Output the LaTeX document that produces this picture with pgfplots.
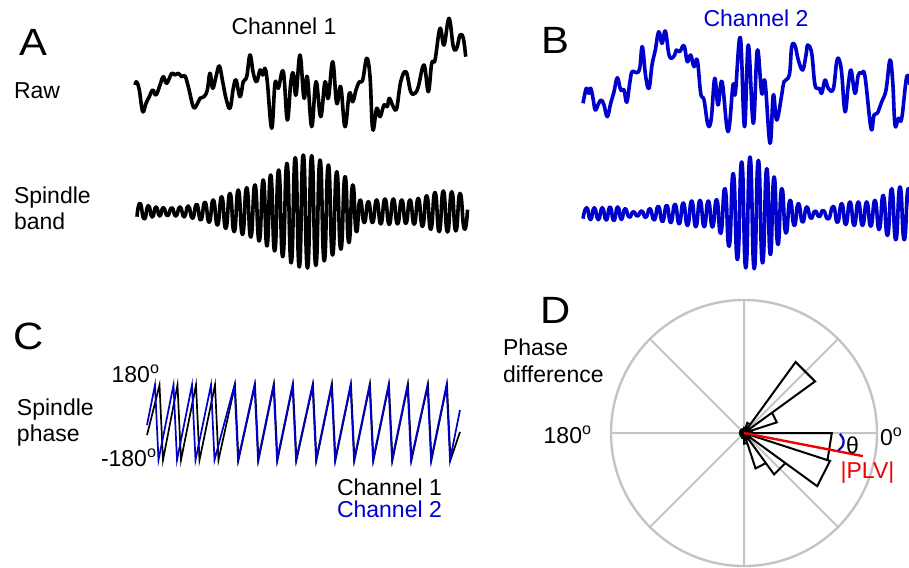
\documentclass[border=0pt]{standalone}
\usepackage{pgfplots}
\pgfplotsset{compat=1.18}
\usepgfplotslibrary{polar}
\usepackage{fontspec}
\setmainfont{Liberation Sans}
\definecolor{chblue}{RGB}{0,0,204}
\definecolor{gridgray}{RGB}{196,196,196}
\definecolor{plvred}{RGB}{240,0,0}
\begin{document}
\fontsize{11.5pt}{13.8pt}\selectfont
\begin{tikzpicture}
\useasboundingbox (0,0) rectangle (454.5pt,-283.5pt);
\clip (0,0) rectangle (454.5pt,-283.5pt);
\pgfplotsset{sig/.style={scale only axis, hide axis, enlargelimits=false, clip=false, anchor=south west}}

% ---------- Panel A: Channel 1 raw ----------
\begin{axis}[sig, width=168.5pt, height=65pt, at={(66.5pt,-70pt)},
  xmin=133, xmax=470, ymin=-60, ymax=70]
\addplot[black, line width=1.8pt, smooth, tension=0.65, line join=round] coordinates {
(135,-5) (136.7,-1.7) (139.3,-10) (142.7,-31.7) (146,-23.3) (149.3,-16.7) (152.7,-10) (156,-15)
(160,-5) (163.3,3.3) (166.7,-3.3) (171.7,6.7) (175,5) (178.3,6.7) (181.7,3.3) (185,4)
(188.3,-6.7) (193.3,-26.7) (196.7,-25) (200,-18.3) (204,-16.7) (207.3,-10) (210,6.7) (212.7,-8.3)
(216,3.3) (219.3,14) (222.7,-1.7) (226,-18.3) (230,-28.3) (233.3,-8.3) (236,0) (240,-16.7)
(243.3,-1.7) (246.7,3.3) (250,25) (253.3,6.7) (256.7,-1.7) (260,10) (262.7,5) (265,11.7)
(267.3,-1.7) (271.7,-48.3) (275,-3.3) (278.3,-8.3) (283.3,8.3) (287.3,-40) (290.7,-3.3) (293.3,6.7)
(296,-15) (300,25) (304,-18.3) (307.3,3.3) (311.7,-46.7) (316,-1.7) (320.7,-36.7) (325,-1.7)
(328.3,-18.3) (332.7,18.3) (336.7,-23.3) (340.7,-6.7) (345,-46.7) (349.3,-13.3) (352.7,-21.7) (356,-10)
(359.3,-1.7) (362.7,0) (366.7,21.7) (370,3.3) (372.7,-49.3) (376.7,-28.3) (380,-36.7) (384,-25)
(387.3,-26.7) (389.3,-18.3) (393.3,-26.7) (396.7,-28.3) (400.7,-1.7) (406,8.3) (410.7,-11.7) (415,-13.3)
(418.3,-6.7) (424,15) (428.3,-11.7) (431.7,16.7) (435,20) (440,51.7) (444,35) (449,61.7)
(453.3,33.3) (456.7,31.7) (460,45) (463.3,41.7) (465.7,23.3)
};
\end{axis}

% ---------- Panel A: Channel 1 spindle band ----------
\begin{axis}[sig, width=168.5pt, height=65pt, at={(66.5pt,-138.35pt)},
  xmin=133, xmax=470, ymin=-65, ymax=65]
\addplot[black, line width=1.8pt, smooth, tension=1, line join=round] coordinates {
(137.0,-5) (140.0,8.3) (144.2,-7.2) (148.3,6.0) (152.2,-5.3) (156.0,4.7) (159.7,-4.3) (163.3,4.0)
(167.5,-4.0) (171.7,4.0) (175.8,-4.3) (180.0,4.7) (184.2,-5.2) (188.3,5.7) (192.5,-6.5) (196.7,7.3)
(200.8,-8.3) (205.0,9.3) (209.2,-10.5) (213.3,11.7) (217.5,-13.3) (221.7,15.0) (225.8,-16.7) (230.0,18.3)
(234.2,-20.0) (238.3,21.7) (242.5,-22.8) (246.7,24.0) (250.8,-25.3) (255.0,26.7) (259.2,-29.2) (263.3,31.7)
(267.0,-34.2) (270.7,36.7) (274.7,-39.2) (278.7,41.7) (282.8,-45.0) (287.0,48.3) (291.2,-51.2) (295.3,54.0)
(299.3,-55.3) (303.3,56.7) (307.5,-56.3) (311.7,56.0) (315.8,-53.8) (320.0,51.7) (324.2,-49.2) (328.3,46.7)
(332.5,-43.3) (336.7,40.0) (340.8,-37.5) (345.0,35.0) (348.8,-30.8) (352.7,26.7) (356.3,-20.0) (360.0,11.7)
(364.2,-10.8) (368.3,10.0) (372.5,-10.8) (376.7,11.7) (380.8,-12.2) (385.0,12.7) (389.2,-12.7) (393.3,12.7)
(397.5,-12.2) (401.7,11.7) (405.8,-11.7) (410.0,11.7) (414.2,-12.5) (418.3,13.3) (422.5,-14.7) (426.7,16.0)
(430.8,-17.7) (435.0,19.3) (439.2,-20.0) (443.3,20.7) (447.5,-20.3) (451.7,20.0) (455.8,-19.2) (460.0,18.3)
(464.2,-17.0) (467.5,2)
};
\end{axis}

% ---------- Panel B: Channel 2 raw ----------
\begin{axis}[sig, width=167pt, height=65pt, at={(289pt,-75pt)},
  xmin=578, xmax=912, ymin=-65, ymax=65]
\addplot[chblue, line width=1.8pt, smooth, tension=0.65, line join=round] coordinates {
(583,-18.3) (586.3,-3.3) (588.7,-8.3) (590.7,-3.3) (593,-13.3) (595.3,-25) (598.7,-18.3) (601.3,-15)
(604,-20) (607.3,-31.7) (610.7,-18.3) (614,-6.7) (617.3,7.3) (620.7,-5) (624,-5) (626.7,-17.3)
(629.7,1.7) (632,13.3) (636.3,12.3) (639.7,16.7) (642.3,38.3) (645.7,8.3) (649,-3.3) (652,20)
(655.3,35) (658.7,53.3) (662,41.7) (665.3,54) (668.7,31.7) (671.3,26.7) (674.7,30) (676.3,35)
(679.7,33.3) (684,39.3) (687.3,23.3) (690.7,30) (694,18.3) (697.3,25) (700.7,-8.3) (704,-15)
(708,-40) (711.3,-33.3) (714.7,6.7) (718,-20) (722,3.3) (728,-46.7) (733,0) (735.3,-8.3)
(740.3,47.5) (744.5,-41.7) (748.3,40) (753.3,-38.3) (757.3,35) (761.7,-8.3) (765,3.3) (770,-58.3)
(773.3,-10) (776.7,-35) (781.7,-10) (784,3.3) (789.3,10) (791.7,38.3) (795,39.3) (798.3,25)
(802.7,15) (806,30) (807.7,40) (811.7,31.7) (815,0) (819.3,-3.3) (821.7,-8.3) (825,5)
(828.3,-3.3) (833.3,-4) (836.7,23.3) (839.3,25) (841.7,11.7) (845,-26.7) (848.3,0) (851,15)
(855,-8.3) (858.3,10) (861.7,11.7) (865,8.3) (871,-43.3) (874,-30) (877.3,-28.3) (881.7,-16.7)
(886,-5) (890,25) (892.7,3.3) (895,-40) (898.3,-33.3) (901.7,-33.3) (906.7,8.3) (910,0)
};
\end{axis}

% ---------- Panel B: Channel 2 spindle band ----------
\begin{axis}[sig, width=167pt, height=65pt, at={(289pt,-139.35pt)},
  xmin=578, xmax=912, ymin=-65, ymax=65]
\addplot[chblue, line width=1.8pt, smooth, tension=1, line join=round] coordinates {
(583,-5) (586.7,6) (590.5,-6) (594.3,6) (598.3,-6) (602.3,6) (606.2,-6.3) (610.0,6.7)
(613.8,-6.7) (617.7,6.7) (621.3,-5.8) (625.0,5) (629.2,-3.5) (633.3,2) (637.5,-2.3) (641.7,2.7)
(645.8,-3.8) (650.0,5) (654.2,-6.2) (658.3,7.3) (662.5,-7.8) (666.7,8.3) (670.8,-8.8) (675.0,9.3)
(679.2,-10) (683.3,10.7) (687.5,-11.7) (691.7,12.7) (695.8,-13) (700.0,13.3) (704.2,-13) (708.3,12.7)
(712.5,-13.3) (716.7,14) (720.8,-19.5) (725.0,25) (729.2,-32.5) (733.3,40) (737.5,-45.8) (741.7,51.7)
(745.8,-54.2) (750.0,56.7) (754.2,-55) (758.3,53.3) (762.5,-49.2) (766.7,45) (770.3,-40.8) (774.0,36.7)
(777.8,-30.8) (781.7,25) (785.8,-19.2) (790.0,13.3) (794.2,-11.7) (798.3,10) (802.5,-8.3) (806.7,6.7)
(810.8,-4.7) (815.0,2.7) (819.2,-3) (823.3,3.3) (828.3,-5.3) (833.3,7.3) (837.5,-8.7) (841.7,10)
(845.8,-10.8) (850.0,11.7) (854.2,-11.7) (858.3,11.7) (862.5,-11.7) (866.7,11.7) (870.8,-12.5) (875.0,13.3)
(879.2,-15.8) (883.3,18.3) (887.5,-21.7) (891.7,25) (895.8,-26) (900.0,26.7) (904.2,-26) (908.3,25)
(912.5,-25)
};
\end{axis}

% ---------- Panel C: spindle phase ----------
\begin{axis}[sig, width=156.5pt, height=37.5pt, at={(73.5pt,-230pt)},
  xmin=147, xmax=460, ymin=-180, ymax=180]
\addplot[black, line width=0.85pt] coordinates {
(147,-60) (159.5,180) (163,-180) (177.5,180) (181,-180) (196,180) (199.5,-180) (215,180)
(218.5,-180) (235,180) (238.5,-180) (255,180) (258.5,-180) (274,180) (277.5,-180) (293,180)
(296.5,-180) (313,180) (316.5,-180) (332,180) (335.5,-180) (351,180) (354.5,-180) (370,180)
(373.5,-180) (389,180) (392.5,-180) (408,180) (411.5,-180) (428,180) (431.5,-180) (447,180)
(450.5,-180) (460,-45)
};
\addplot[chblue, line width=0.85pt] coordinates {
(147,-12) (155,180) (158.5,-180) (173.5,180) (177,-180) (192,180) (195.5,-180) (211,180)
(214.5,-180) (234.5,180) (238,-180) (254.5,180) (258,-180) (273.5,180) (277,-180) (292.5,180)
(296,-180) (312.5,180) (316,-180) (331.5,180) (335,-180) (350.5,180) (354,-180) (369.5,180)
(373,-180) (388.5,180) (392,-180) (407.5,180) (411,-180) (427.5,180) (431,-180) (446.5,180)
(450,-180) (460,60)
};
\end{axis}

% ---------- Panel D: phase difference rose ----------
\begin{polaraxis}[scale only axis, width=133pt, height=133pt, at={(372pt,-216.5pt)}, anchor=center,
  ymin=0, ymax=1, xtick={0,45,...,315}, ytick=\empty, xticklabels={}, major tick length=0pt,
  grid=major, major grid style={draw=gridgray, line width=1pt},
  axis line style={draw=gridgray, line width=1.2pt}, clip=false]
\addplot[black, line width=1pt, line join=miter] coordinates {
(0,0) (-180,0.03) (-162,0.03) (0,0) (-162,0.03) (-144,0.03) (0,0) (-144,0.03) (-126,0.03)
(0,0) (-126,0.03) (-108,0.03) (0,0) (-108,0.04) (-90,0.04) (0,0) (-90,0.08) (-72,0.08)
(0,0) (-72,0.28) (-54,0.28) (0,0) (-54,0.385) (-36,0.385) (0,0) (-36,0.68) (-18,0.68)
(0,0) (-18,0.66) (0,0.66) (0,0) (0,0.06) (18,0.06) (0,0) (18,0.26) (36,0.26)
(0,0) (36,0.66) (54,0.66) (0,0) (54,0.08) (72,0.08) (0,0) (72,0.04) (90,0.04)
(0,0) (90,0.03) (108,0.03) (0,0) (108,0.03) (126,0.03) (0,0) (126,0.03) (144,0.03)
(0,0) (144,0.03) (162,0.03) (0,0) (162,0.03) (180,0.03) (0,0)
};
\addplot[plvred, line width=1.2pt] coordinates {(0,0) (-11,0.91)};
\addplot[chblue, line width=1.1pt, smooth] coordinates {(-0.5,0.72) (-3,0.745) (-5.5,0.752) (-8,0.745) (-10.5,0.72)};
\end{polaraxis}

% ---------- Text ----------
\begin{scope}[x=0.5pt, y=-0.5pt, every node/.style={inner sep=0pt, outer sep=0pt}]
\def\big{\fontsize{19pt}{19pt}\selectfont}
\node[font=\big, xscale=1.1] at (33,42) {A};
\node[font=\big, xscale=1.1] at (555,40) {B};
\node[font=\big, xscale=1.1] at (29,336) {C};
\node[font=\big, xscale=1.1] at (556,310) {D};
\node[anchor=base] at (284,35) {Channel 1};
\node[anchor=base, text=chblue] at (756,27) {Channel 2};
\node[anchor=base west] at (14,98) {Raw};
\node[anchor=base west] at (14,203) {Spindle};
\node[anchor=base west] at (14,229) {band};
\node[anchor=base west] at (17,415) {Spindle};
\node[anchor=base west] at (17,441) {phase};
\node[anchor=base east] at (160,382) {180\textsuperscript{o}};
\node[anchor=base east] at (157,466) {-180\textsuperscript{o}};
\node[anchor=base west] at (337,495) {Channel 1};
\node[anchor=base west, text=chblue] at (337,517) {Channel 2};
\node[anchor=base west] at (503,355) {Phase};
\node[anchor=base west] at (503,382) {difference};
\node[anchor=base east] at (592,443) {180\textsuperscript{o}};
\node[anchor=base west] at (880,445) {0\textsuperscript{o}};
\node[anchor=base west] at (846,453) {θ};
\node[text=plvred] at (867.5,472.5) {|PLV|};
\end{scope}
\end{tikzpicture}
\end{document}
